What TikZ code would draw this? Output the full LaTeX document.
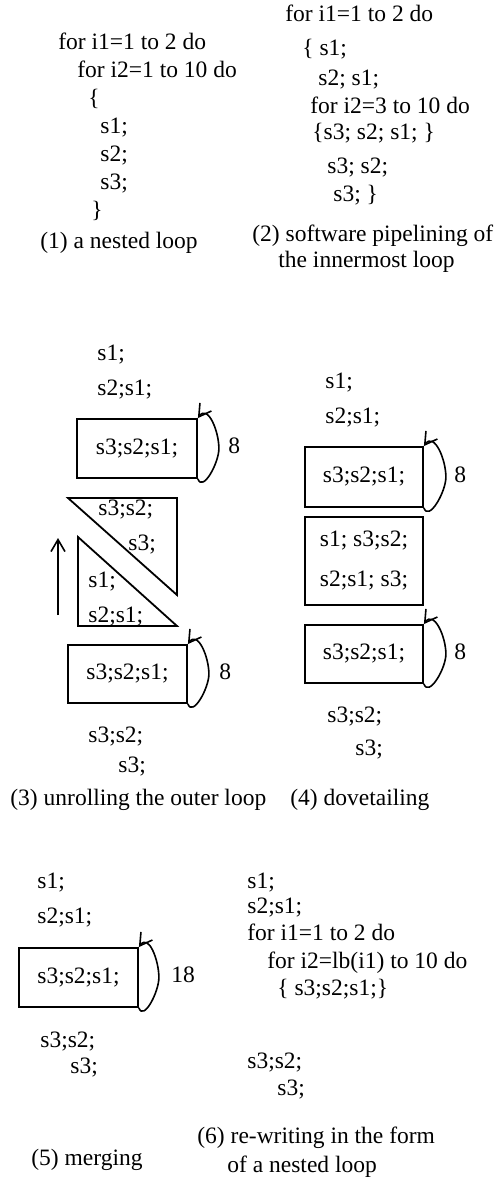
\documentclass[tikz,border=0pt]{standalone}
\usepackage{fontspec}
\setmainfont{Liberation Serif}
\usetikzlibrary{arrows.meta,positioning}
\newcommand{\codefont}{\fontsize{11.75pt}{14pt}\selectfont}

\begin{document}
\begin{tikzpicture}[
  x=0.5pt, y=-0.5pt,
  code/.style={anchor=west, inner sep=0pt, text height=1.6ex, text depth=0.45ex, font=\codefont},
  loopbox/.style={draw, line width=0.9pt, inner sep=0pt, align=left, font=\codefont},
  back/.style={-{Straight Barb[length=6pt, width=7pt]}, line width=0.8pt},
  tri/.style={draw, line width=0.9pt},
]
\useasboundingbox (0,0) rectangle (501,1183);

% (1) the nested loop
\node[code] (nest1) at (58,44) {for i1=1 to 2 do};
\node[code] (nest2) at (77,72) {for i2=1 to 10 do};
\node[code] (nest3) at (88,100) {\{};
\node[code] (nest4) at (100,128) {s1;};
\node[code] (nest5) at (100,156) {s2;};
\node[code] (nest6) at (100,184) {s3;};
\node[code] (nest7) at (91,212) {\}};
\node[code] (cap1) at (40,243) {(1) a nested loop};

% (2) software pipelining
\node[code] (pipe1) at (285,16) {for i1=1 to 2 do};
\node[code] (pipe2) at (302,50) {\{ s1;};
\node[code] (pipe3) at (318,80) {s2; s1;};
\node[code] (pipe4) at (310,108) {for i2=3 to 10 do};
\node[code] (pipe5) at (312,134) {\{s3; s2; s1; \}};
\node[code] (pipe6) at (327,168) {s3; s2;};
\node[code] (pipe7) at (333,196) {s3; \}};
\node[code] (cap2a) at (252,236) {(2) software pipelining of};
\node[code] (cap2b) at (278,262) {the innermost loop};

% (3) unrolling the outer loop
\node[code] (unr1) at (97,355) {s1;};
\node[code] (unr2) at (97,390) {s2;s1;};
\node[loopbox, minimum width=60pt, minimum height=29.5pt] (unrA) at (137,448.5) {s3;s2;s1;};
\coordinate (unrAr) at ([xshift=10.5pt]unrA.east);
\draw[back] (unrA.south east) to[out=-70, in=-90] (unrAr) to[out=90, in=55, looseness=1.2] (unrA.north east);
\node[code, right=15pt of unrA] (unrA8) {8};

\draw[tri] (68,498) -- (177,498) -- (177,595) -- cycle;
\draw[tri] (78,537) -- (78,626) -- (177,626) -- cycle;
\node[code] (unr3) at (98,510) {s3;s2;};
\node[code] (unr4) at (128,545) {s3;};
\node[code] (unr5) at (88,582) {s1;};
\node[code] (unr6) at (88,617) {s2;s1;};
\coordinate (up0) at (58,615);
\coordinate (up1) at (58,538);
\draw[back] (up0) -- (up1);

\node[loopbox, minimum width=59.5pt, minimum height=29pt] (unrB) at (127.5,674) {s3;s2;s1;};
\coordinate (unrBr) at ([xshift=10.5pt]unrB.east);
\draw[back] (unrB.south east) to[out=-70, in=-90] (unrBr) to[out=90, in=55, looseness=1.2] (unrB.north east);
\node[code, right=15.5pt of unrB] (unrB8) {8};
\node[code] (unr7) at (88,737) {s3;s2;};
\node[code] (unr8) at (118,767) {s3;};
\node[code] (cap3) at (10,800) {(3) unrolling the outer loop};

% (4) dovetailing
\node[code] (dove1) at (325,383) {s1;};
\node[code] (dove2) at (325,418) {s2;s1;};
\node[loopbox, minimum width=59pt, minimum height=30pt] (doveA) at (364,477) {s3;s2;s1;};
\coordinate (doveAr) at ([xshift=11pt]doveA.east);
\draw[back] (doveA.south east) to[out=-70, in=-90] (doveAr) to[out=90, in=55, looseness=1.2] (doveA.north east);
\node[code, right=15pt of doveA] (doveA8) {8};
\node[loopbox, minimum width=59pt, minimum height=44pt] (doveB) at (364,561) {s1; s3;s2;\\[6pt]s2;s1; s3;};
\node[loopbox, minimum width=59pt, minimum height=29pt] (doveC) at (364,654) {s3;s2;s1;};
\coordinate (doveCr) at ([xshift=11pt]doveC.east);
\draw[back] (doveC.south east) to[out=-70, in=-90] (doveCr) to[out=90, in=55, looseness=1.2] (doveC.north east);
\node[code, right=15pt of doveC] (doveC8) {8};
\node[code] (dove3) at (327,717) {s3;s2;};
\node[code] (dove4) at (355,750) {s3;};
\node[code] (cap4) at (290,800) {(4) dovetailing};

% (5) merging
\node[code] (merg1) at (37,883) {s1;};
\node[code] (merg2) at (37,918) {s2;s1;};
\node[loopbox, minimum width=59.5pt, minimum height=29.5pt] (mergA) at (78.5,977.5) {s3;s2;s1;};
\coordinate (mergAr) at ([xshift=10pt]mergA.east);
\draw[back] (mergA.south east) to[out=-70, in=-90] (mergAr) to[out=90, in=55, looseness=1.2] (mergA.north east);
\node[code, right=16pt of mergA] (mergA18) {18};
\node[code] (merg3) at (40,1042) {s3;s2;};
\node[code] (merg4) at (70,1068) {s3;};
\node[code] (cap5) at (31,1160) {(5) merging};

% (6) re-writing as a nested loop
\node[code] (rewr1) at (247,883) {s1;};
\node[code] (rewr2) at (247,908) {s2;s1;};
\node[code] (rewr3) at (247,935) {for i1=1 to 2 do};
\node[code] (rewr4) at (267,963) {for i2=lb(i1) to 10 do};
\node[code] (rewr5) at (277,990) {\{ s3;s2;s1;\}};
\node[code] (rewr6) at (247,1063) {s3;s2;};
\node[code] (rewr7) at (277,1090) {s3;};
\node[code] (cap6a) at (197,1138) {(6) re-writing in the form};
\node[code] (cap6b) at (227,1167) {of a nested loop};

\end{tikzpicture}
\end{document}
